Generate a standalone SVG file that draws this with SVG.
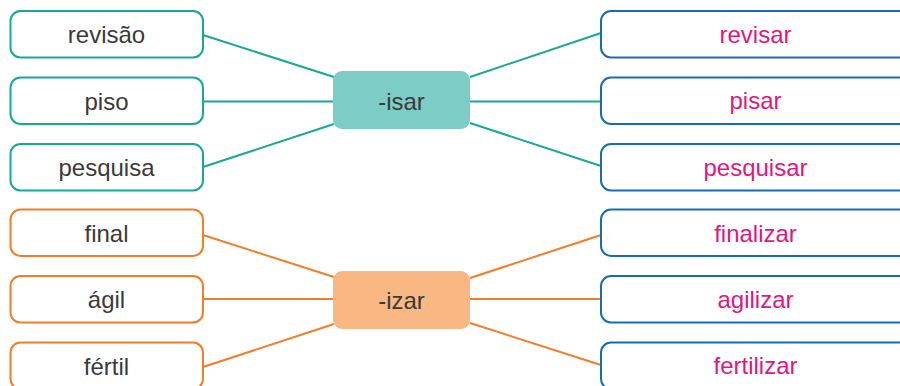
<svg xmlns="http://www.w3.org/2000/svg" width="900" height="386" viewBox="0 0 900 386">
<style>
text{font-family:"Liberation Sans",Arial,sans-serif;font-size:24px;text-anchor:middle}
.dark{fill:#3a3a3a}
.pink{fill:#e5157d}
.tbox{fill:#ffffff;stroke:#16a89a;stroke-width:2}
.obox{fill:#ffffff;stroke:#f47d27;stroke-width:2}
.bbox{fill:#ffffff;stroke:#176db4;stroke-width:2}
.tl{stroke:#16a89a;stroke-width:2;fill:none}
.ol{stroke:#f47d27;stroke-width:2;fill:none}
</style>
<rect width="900" height="386" fill="#ffffff"/>
<g id="connectors">
<line class="tl" x1="203" y1="35" x2="334" y2="77"/>
<line class="tl" x1="203" y1="101.5" x2="334" y2="101.5"/>
<line class="tl" x1="203" y1="167" x2="334" y2="124"/>
<line class="tl" x1="470" y1="77" x2="601" y2="33"/>
<line class="tl" x1="470" y1="101.5" x2="601" y2="101.5"/>
<line class="tl" x1="470" y1="123" x2="601" y2="166"/>
<line class="ol" x1="203" y1="235" x2="334" y2="277"/>
<line class="ol" x1="203" y1="299" x2="334" y2="299"/>
<line class="ol" x1="203" y1="367" x2="334" y2="324"/>
<line class="ol" x1="470" y1="278" x2="601" y2="235"/>
<line class="ol" x1="470" y1="299" x2="601" y2="299"/>
<line class="ol" x1="470" y1="323" x2="601" y2="365"/>
</g>
<g id="n-revisao"><rect class="tbox" x="10.5" y="11" width="192.5" height="46.5" rx="10"/><text class="dark" x="106.5" y="43">revisão</text></g>
<g id="n-piso"><rect class="tbox" x="10.5" y="77.5" width="192.5" height="46.5" rx="10"/><text class="dark" x="106.5" y="109.5">piso</text></g>
<g id="n-pesquisa"><rect class="tbox" x="10.5" y="144" width="192.5" height="46.5" rx="10"/><text class="dark" x="106.5" y="176">pesquisa</text></g>
<g id="n-final"><rect class="obox" x="10.5" y="209.5" width="192.5" height="46.5" rx="10"/><text class="dark" x="106.5" y="241.5">final</text></g>
<g id="n-agil"><rect class="obox" x="10.5" y="276" width="192.5" height="46.5" rx="10"/><text class="dark" x="106.5" y="308">ágil</text></g>
<g id="n-fertil"><rect class="obox" x="10.5" y="342.5" width="192.5" height="46.5" rx="10"/><text class="dark" x="106.5" y="374.5">fértil</text></g>
<g id="n-isar"><rect x="333" y="71" width="137" height="58" rx="9" fill="#7dccc6"/><text class="dark" x="401.5" y="109.5">-isar</text></g>
<g id="n-izar"><rect x="333" y="271" width="137" height="58" rx="9" fill="#f9b883"/><text class="dark" x="401.5" y="308.5">-izar</text></g>
<g id="n-revisar"><rect class="bbox" x="601" y="11" width="310" height="46.5" rx="10"/><text class="pink" x="755.5" y="42.5">revisar</text></g>
<g id="n-pisar"><rect class="bbox" x="601" y="77.5" width="310" height="46.5" rx="10"/><text class="pink" x="755.5" y="109">pisar</text></g>
<g id="n-pesquisar"><rect class="bbox" x="601" y="144" width="310" height="46.5" rx="10"/><text class="pink" x="755.5" y="175.5">pesquisar</text></g>
<g id="n-finalizar"><rect class="bbox" x="601" y="209.5" width="310" height="46.5" rx="10"/><text class="pink" x="755.5" y="241.5">finalizar</text></g>
<g id="n-agilizar"><rect class="bbox" x="601" y="276" width="310" height="46.5" rx="10"/><text class="pink" x="755.5" y="307.5">agilizar</text></g>
<g id="n-fertilizar"><rect class="bbox" x="601" y="342.5" width="310" height="46.5" rx="10"/><text class="pink" x="755.5" y="373.5">fertilizar</text></g>
</svg>
